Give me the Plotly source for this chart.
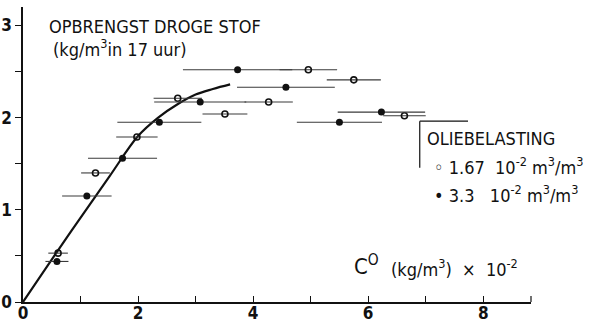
import plotly.graph_objects as go

# Oil loading 1.67e-2 m3/m3 (open circles)
c0_low = [0.61, 1.26, 1.98, 2.69, 3.51, 4.27, 4.96, 5.75, 6.63]
yield_low = [0.53, 1.40, 1.79, 2.21, 2.04, 2.17, 2.52, 2.41, 2.02]
spread_low = [0.17, 0.25, 0.36, 0.42, 0.39, 0.42, 0.50, 0.47, 0.37]

# Oil loading 3.3e-2 m3/m3 (filled circles)
c0_high = [0.59, 1.11, 1.73, 2.37, 3.08, 3.73, 4.57, 5.50, 6.23]
yield_high = [0.44, 1.15, 1.56, 1.95, 2.17, 2.52, 2.33, 1.95, 2.06]
spread_high = [0.20, 0.43, 0.60, 0.73, 0.80, 0.95, 0.85, 0.74, 0.76]

# Fitted trend curve
curve_x = [0.0, 0.85, 1.5, 2.0, 2.35, 2.7, 3.0, 3.3, 3.6]
curve_y = [0.0, 0.78, 1.36, 1.80, 2.00, 2.15, 2.25, 2.31, 2.36]

x_ticks = [0, 1, 2, 3, 4, 5, 6, 7, 8]
x_labels = ["0", "", "2", "", "4", "", "6", "", "8"]
y_ticks = [0, 0.5, 1, 1.5, 2, 2.5, 3]
y_labels = ["0", "", "1", "", "2", "", "3"]

FONT = "Liberation Sans Narrow, DejaVu Sans Condensed, Arial Narrow, sans-serif"
INK = "#111111"


def txt(x, y, text, size, anchor="left", weight="normal"):
    return dict(x=x, y=y, xref="paper", yref="paper", xanchor=anchor, yanchor="middle",
                text=text, showarrow=False,
                font=dict(size=size, family=FONT, color=INK, weight=weight))


fig = go.Figure()

fig.add_trace(go.Scatter(
    x=curve_x, y=curve_y, mode="lines", line=dict(color=INK, width=2.2, shape="spline"),
    hoverinfo="skip", showlegend=False))

fig.add_trace(go.Scatter(
    x=c0_low, y=yield_low, mode="markers",
    marker=dict(symbol="circle-open", size=6, color=INK, line=dict(width=1.6)),
    error_x=dict(type="data", array=spread_low, color="#3a3a3a", thickness=1.1, width=0),
    showlegend=False))

fig.add_trace(go.Scatter(
    x=c0_high, y=yield_high, mode="markers",
    marker=dict(symbol="circle", size=7, color=INK),
    error_x=dict(type="data", array=spread_high, color="#3a3a3a", thickness=1.1, width=0),
    showlegend=False))

annotations = [
    txt(0.047, 0.935, "OPBRENGST DROGE STOF", 18),
    txt(0.055, 0.86, "(kg/m<sup>3</sup>in 17 uur)", 18),
    txt(0.648, 0.125, "C<sup>O</sup>", 22),
    txt(0.72, 0.115, "(kg/m<sup>3</sup>)  \u00d7  10<sup>-2</sup>", 18),
    txt(0.792, 0.555, "OLIEBELASTING", 18),
    txt(0.806, 0.462, "\u25e6 1.67  10<sup>-2</sup> m<sup>3</sup>/m<sup>3</sup>", 18),
    txt(0.806, 0.365, "\u2022 3.3   10<sup>-2</sup> m<sup>3</sup>/m<sup>3</sup>", 18),
]

shapes = [
    # legend bracket
    dict(type="line", xref="paper", yref="paper", x0=0.781, x1=0.781, y0=0.455, y1=0.613,
         line=dict(color=INK, width=1.2)),
    dict(type="line", xref="paper", yref="paper", x0=0.781, x1=0.876, y0=0.613, y1=0.613,
         line=dict(color=INK, width=1.2)),
    # upturned end of the x axis
    dict(type="line", xref="paper", yref="paper", x0=1.0, x1=1.0, y0=0.0, y1=0.02,
         line=dict(color=INK, width=1.2)),
]

axis_font = dict(size=17, family=FONT, color=INK, weight="bold")

fig.update_layout(
    width=593, height=324,
    margin=dict(l=23, r=62, t=7, b=22),
    paper_bgcolor="white", plot_bgcolor="white",
    font=dict(family=FONT, color=INK),
    annotations=annotations, shapes=shapes,
    xaxis=dict(range=[0, 8.83], tickvals=x_ticks, ticktext=x_labels, ticks="inside", ticklen=6,
               tickcolor=INK, tickwidth=1.2, showline=True, linecolor=INK, linewidth=1.5,
               showgrid=False, zeroline=False, tickfont=axis_font, automargin=False,
               ticklabelstandoff=-5),
    yaxis=dict(range=[0, 3.2], tickvals=y_ticks, ticktext=y_labels, ticks="outside", ticklen=6,
               tickcolor=INK, tickwidth=1.2, showline=True, linecolor=INK, linewidth=1.5,
               showgrid=False, zeroline=False, tickfont=axis_font, automargin=False),
)

fig.write_html("out.html")
